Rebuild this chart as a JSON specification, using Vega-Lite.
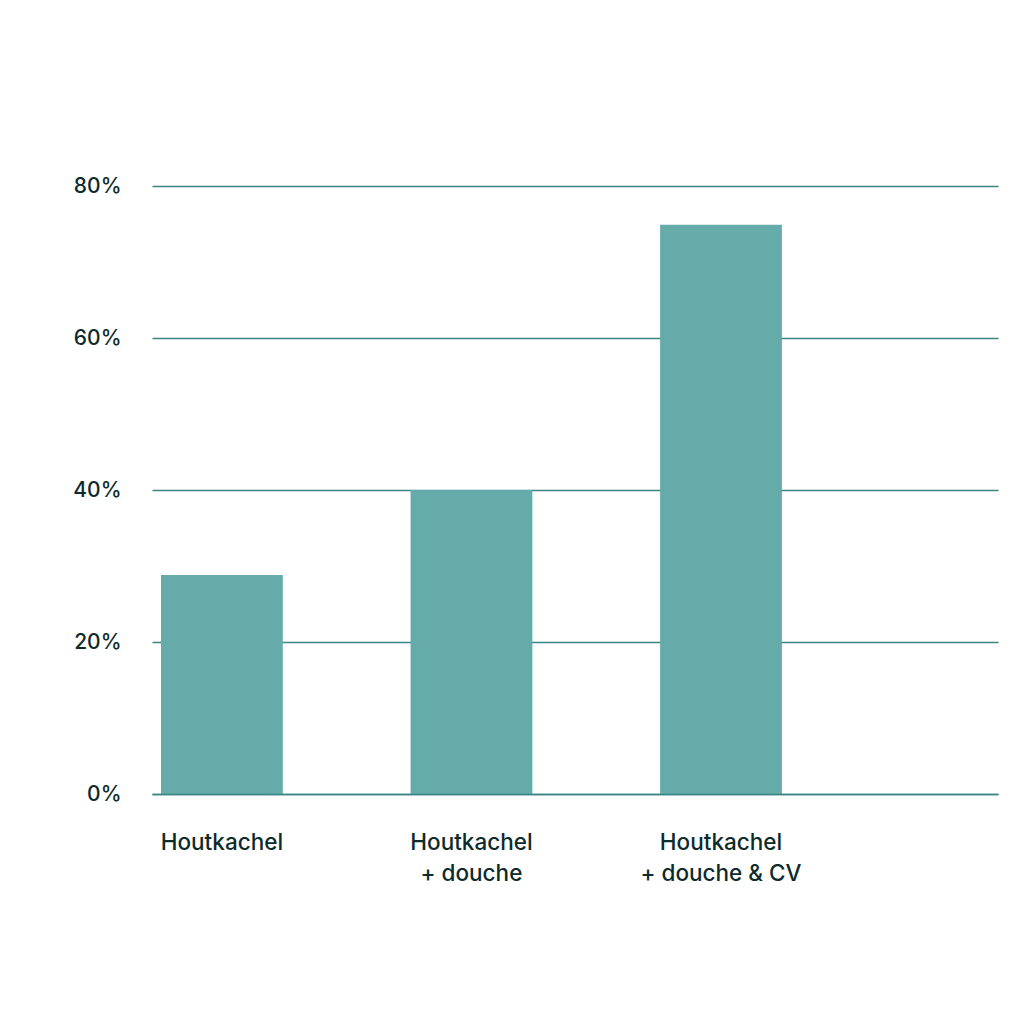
{
  "$schema": "https://vega.github.io/schema/vega-lite/v6.json",
  "width": 846,
  "height": 608,
  "autosize": {"type": "none"},
  "padding": {"left": 152, "top": 186, "right": 26, "bottom": 230},
  "background": "#ffffff",
  "config": {
    "view": {"stroke": null},
    "font": "Inter",
    "axis": {"labelFont": "Inter", "labelColor": "#0e2b2b", "labelFontWeight": 500}
  },
  "data": {
    "values": [
      {"category": "Houtkachel", "share": 0.288},
      {"category": "Houtkachel + douche", "share": 0.40},
      {"category": "Houtkachel + douche & CV", "share": 0.749}
    ]
  },
  "mark": {"type": "bar", "color": "#64abaa"},
  "encoding": {
    "x": {
      "field": "category",
      "type": "nominal",
      "sort": null,
      "scale": {"paddingInner": 0.512, "paddingOuter": 0.451, "align": 0.04},
      "axis": {
        "title": null,
        "labelAngle": 0,
        "ticks": false,
        "domain": true,
        "domainColor": "#3a8484",
        "domainWidth": 1.5,
        "zindex": 1,
        "labelFontSize": 22.5,
        "labelPadding": 37,
        "labelLineHeight": 31,
        "labelExpr": "datum.value == 'Houtkachel' ? datum.value : ['Houtkachel', slice(datum.value, 11)]"
      }
    },
    "y": {
      "field": "share",
      "type": "quantitative",
      "scale": {"domain": [0, 0.8]},
      "axis": {
        "title": null,
        "values": [0, 0.2, 0.4, 0.6, 0.8],
        "format": "~%",
        "ticks": false,
        "domain": false,
        "grid": true,
        "gridColor": "#3a8484",
        "gridWidth": 1.5,
        "labelFontSize": 21,
        "labelPadding": 31
      }
    }
  }
}
